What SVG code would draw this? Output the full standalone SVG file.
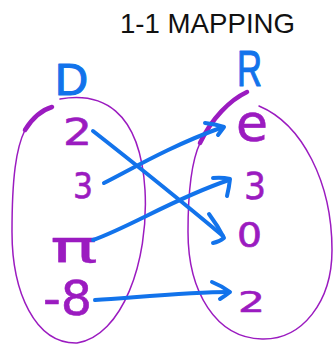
<svg xmlns="http://www.w3.org/2000/svg" width="334" height="344" viewBox="0 0 334 344">
  <style>
    .title { font-family: "Liberation Sans", Arial, sans-serif; font-size: 28px; fill: #111111; }
    .setlabel { font-family: "Liberation Sans", Arial, sans-serif; fill: #1273EB; stroke: #1273EB; stroke-width: 1.2; stroke-linejoin: round; }
    .elem { font-family: "DejaVu Sans", "Liberation Sans", sans-serif; fill: #9B1BC0; stroke: #9B1BC0; stroke-width: 0.6; stroke-linejoin: round; }
    .thin { fill: none; stroke: #9B1BC0; stroke-width: 1.5; stroke-linecap: round; }
    .thick { fill: none; stroke: #9B1BC0; stroke-width: 4.5; stroke-linecap: round; }
    .conn { fill: none; stroke: #1273EB; stroke-width: 4; stroke-linecap: round; stroke-linejoin: round; }
  </style>

  <g id="title">
    <text class="title" x="120" y="33" textLength="175" lengthAdjust="spacingAndGlyphs">1-1 MAPPING</text>
  </g>

  <g id="set-D">
    <text class="setlabel" x="55" y="95" font-size="44" textLength="33" lengthAdjust="spacingAndGlyphs">D</text>
    <path class="thin" d="M 60 99 C 100 92, 140 108, 145 190 C 149 262, 122 336, 77 343 C 35 344, 12 292, 12 232 C 12 178, 16 148, 25 130"/>
    <path class="thick" d="M 25 130 C 33 117, 42 110, 52 107"/>
  </g>

  <g id="set-R">
    <text class="setlabel" x="237" y="86" font-size="50" textLength="25" lengthAdjust="spacingAndGlyphs">R</text>
    <path class="thin" d="M 259 106 C 302 124, 332 182, 332 250 C 332 302, 302 340, 262 339 C 216 338, 188 292, 188 232 C 188 186, 192 160, 200 143"/>
    <path class="thick" d="M 200 143 C 212 118, 230 100, 247 92"/>
  </g>

  <g id="d-2"><text class="elem" x="63" y="145" font-size="38" textLength="29" lengthAdjust="spacingAndGlyphs">2</text></g>
  <g id="d-3"><text class="elem" x="73" y="198" font-size="36" textLength="20" lengthAdjust="spacingAndGlyphs">3</text></g>
  <g id="d-pi"><text class="elem" x="50" y="262" font-size="44" textLength="48" lengthAdjust="spacingAndGlyphs" style="stroke-width: 0.3">π</text></g>
  <g id="d-neg8"><text class="elem" x="43" y="315" font-size="48" textLength="49" lengthAdjust="spacingAndGlyphs">-8</text></g>

  <g id="r-e"><text class="elem" x="236" y="141" font-size="52" textLength="32" lengthAdjust="spacingAndGlyphs">e</text></g>
  <g id="r-3"><text class="elem" x="244" y="199" font-size="37" textLength="22" lengthAdjust="spacingAndGlyphs">3</text></g>
  <g id="r-0"><text class="elem" x="237" y="247" font-size="33" textLength="25" lengthAdjust="spacingAndGlyphs">0</text></g>
  <g id="r-2"><text class="elem" x="238" y="312" font-size="28" textLength="27" lengthAdjust="spacingAndGlyphs">2</text></g>

  <g id="connectors">
    <g id="c-2-0">
      <path class="conn" d="M 93 131 C 130 160, 180 200, 223 236"/>
      <path class="conn" d="M 209 214 Q 218 226 224 238 Q 219 242 213 243"/>
    </g>
    <g id="c-3-e">
      <path class="conn" d="M 104 183 C 130 170, 170 146, 223 127"/>
      <path class="conn" d="M 205 123 Q 215 124 224 127 Q 221 131 218 135"/>
    </g>
    <g id="c-pi-3">
      <path class="conn" d="M 93 240 C 130 227, 175 198, 229 180"/>
      <path class="conn" d="M 213 178 Q 222 177 230 179 Q 229 188 227 196"/>
    </g>
    <g id="c-neg8-2">
      <path class="conn" d="M 95 300 C 140 297, 190 292, 229 292"/>
      <path class="conn" d="M 212 282 Q 222 286 230 292 Q 225 296 220 299"/>
    </g>
  </g>
</svg>
